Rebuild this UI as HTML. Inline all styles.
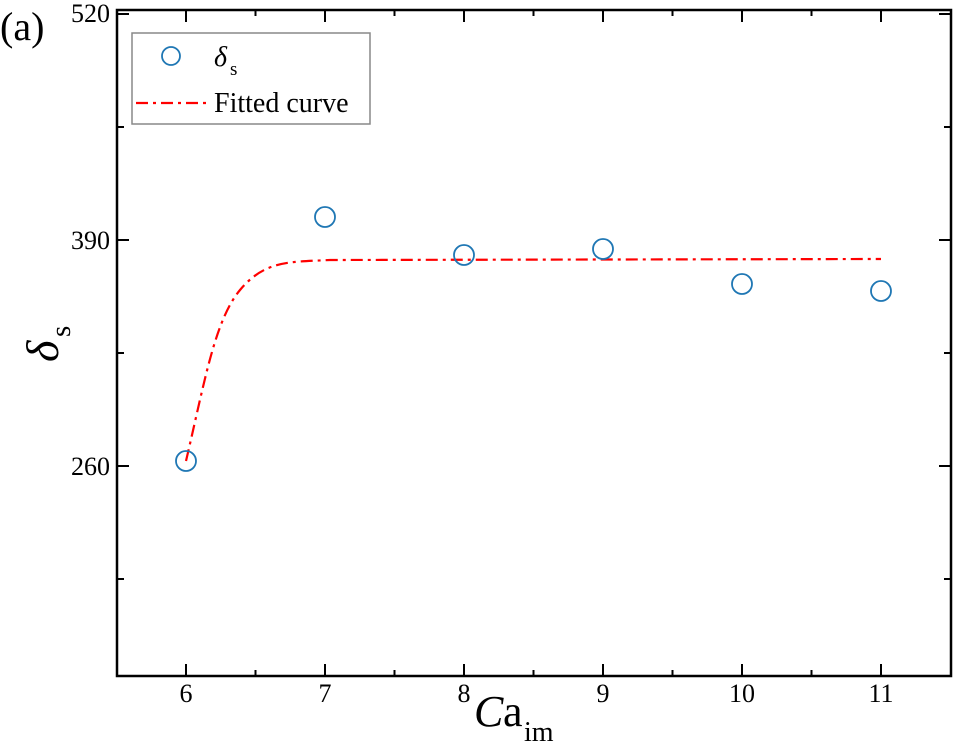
<!DOCTYPE html>
<html><head><style>body{margin:0;background:#fff}svg{display:block}</style></head><body>
<svg width="955" height="745" xmlns="http://www.w3.org/2000/svg" font-family="Liberation Serif, serif">
<rect x="117" y="10" width="834" height="666" fill="none" stroke="#000" stroke-width="2.5"/>
<g stroke="#000" stroke-width="2">
<path d="M186 676v-12M325 676v-12M464 676v-12M603 676v-12M742 676v-12M881 676v-12"/>
<path d="M186 10v12M325 10v12M464 10v12M603 10v12M742 10v12M881 10v12"/>
<path d="M255.5 676v-6M394.5 676v-6M533.5 676v-6M672.5 676v-6M811.5 676v-6"/>
<path d="M255.5 10v6M394.5 10v6M533.5 10v6M672.5 10v6M811.5 10v6"/>
<path d="M117 14h12M117 240h12M117 466h12M951 14h-12M951 240h-12M951 466h-12"/>
<path d="M117 127h7M117 353h7M117 579h7M951 127h-7M951 353h-7M951 579h-7"/>
</g>
<g font-size="26" text-anchor="middle">
<text x="186" y="702">6</text><text x="325" y="702">7</text><text x="464" y="702">8</text>
<text x="603" y="702">9</text><text x="742" y="702">10</text><text x="881" y="702">11</text>
</g>
<g font-size="26" text-anchor="end">
<text x="110" y="22">520</text><text x="110" y="249">390</text><text x="110" y="475">260</text>
</g>
<text x="0" y="40" font-size="40">(a)</text>
<text x="474" y="726" font-size="44" font-style="italic">C</text><text x="503" y="726" font-size="44">a</text><text x="524" y="741" font-size="28">im</text>
<g transform="translate(58,362) rotate(-90)"><text x="0" y="0" font-size="46" font-style="italic">δ</text><text x="25" y="12" font-size="29">s</text></g>
<path d="M186 461 C205 380 215 320 240 290 S290 262 330 260 L881 259" fill="none" stroke="#f00" stroke-width="2.2" stroke-dasharray="12,5,3,5"/>
<g fill="none" stroke="#1f77b4" stroke-width="1.8">
<circle cx="186" cy="461" r="10"/><circle cx="325" cy="217" r="10"/><circle cx="464" cy="255" r="10"/>
<circle cx="603" cy="249" r="10"/><circle cx="742" cy="284" r="10"/><circle cx="881" cy="291" r="10"/>
</g>
<rect x="132" y="33" width="238" height="91" fill="#fff" stroke="#888" stroke-width="1.5"/>
<circle cx="171" cy="56" r="9" fill="none" stroke="#1f77b4" stroke-width="1.8"/>
<text x="214" y="66" font-size="28" font-style="italic">δ</text><text x="230" y="75" font-size="19">s</text>
<path d="M136 103h70" stroke="#f00" stroke-width="2.2" stroke-dasharray="12,5,3,5"/>
<text x="214" y="112" font-size="28">Fitted curve</text>
</svg>
</body></html>
